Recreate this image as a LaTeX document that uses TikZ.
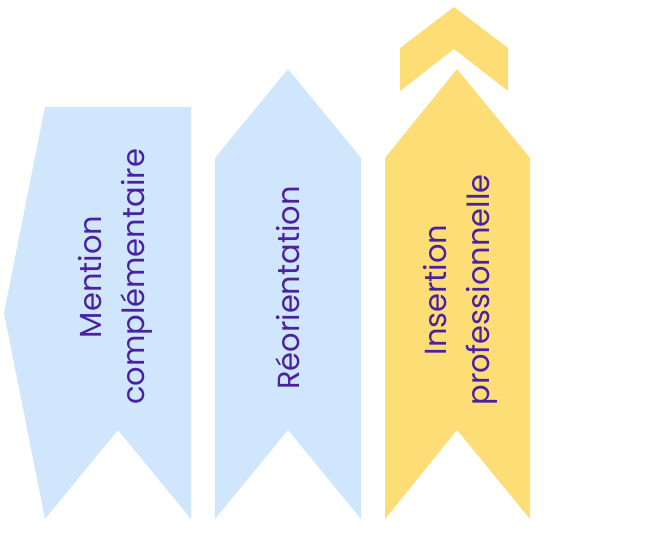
\documentclass[tikz,border=0pt]{standalone}
\usepackage{fontspec}
\setmainfont{Poppins}
\definecolor{lblue}{RGB}{207,230,252}
\definecolor{lyellow}{RGB}{253,221,118}
\definecolor{tpurple}{RGB}{74,34,160}
\tikzset{
  lbl/.style={rotate=90, align=center, text=tpurple, font=\fontsize{30.5}{43}\selectfont, inner sep=0pt},
}
\begin{document}
\begin{tikzpicture}[x=1pt,y=-1pt]
\useasboundingbox (0,0) rectangle (669,540);
% left shape
\fill[lblue] (45,107) -- (191,107) -- (191,519) -- (118,430) -- (45,519) -- (4,313) -- cycle;
% middle
\fill[lblue] (288,69) -- (361,158) -- (361,519) -- (288,430) -- (215,519) -- (215,158) -- cycle;
% right
\fill[lyellow] (457,69) -- (530,158) -- (530,519) -- (457,430) -- (385,519) -- (385,158) -- cycle;
% top chevron
\fill[lyellow] (454,7) -- (508,48) -- (508,91) -- (454,49) -- (400,91) -- (400,48) -- cycle;
\node[lbl] (t1) at (115,277) {Mention\\complémentaire};
\node[lbl] (t2) at (288,288) {Réorientation};
\node[lbl] (t3) at (460,290) {Insertion\\professionnelle};
\end{tikzpicture}
\end{document}
